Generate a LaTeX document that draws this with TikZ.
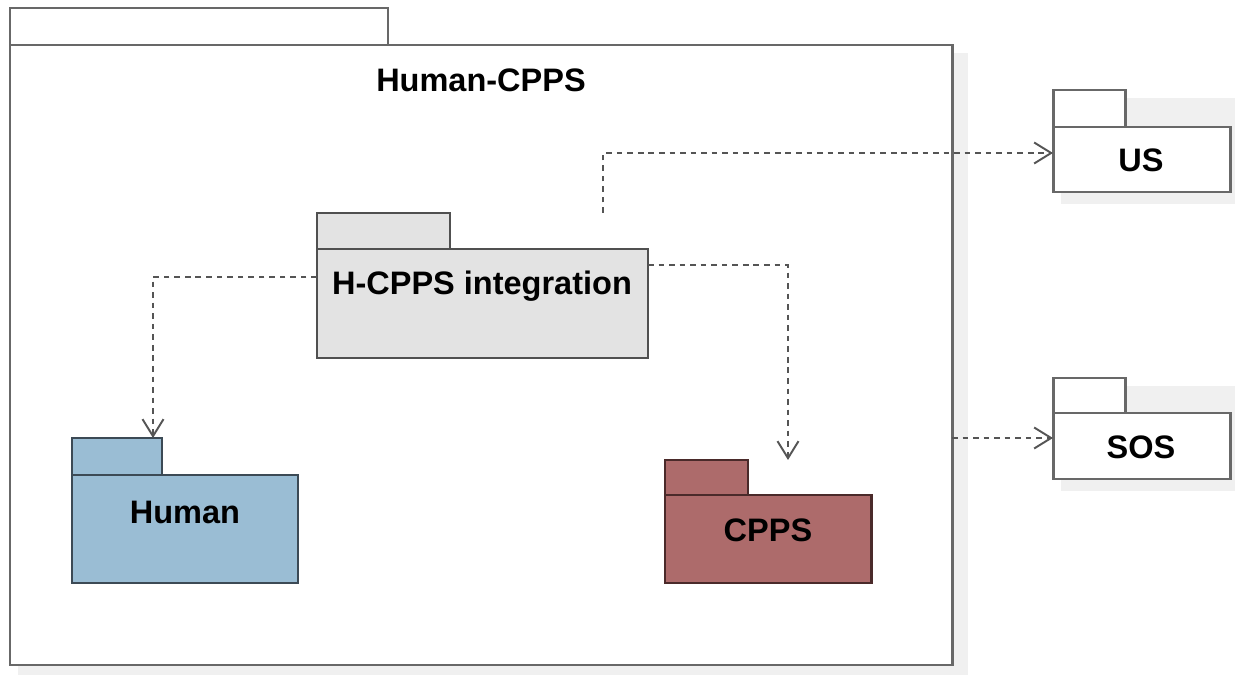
\documentclass[tikz,border=0pt]{standalone}
\usepackage{fontspec}
\setmainfont{Liberation Sans}
\usetikzlibrary{arrows.meta,fit,calc}
\definecolor{humanfill}{HTML}{9ABDD4}
\definecolor{humandraw}{HTML}{3C4A55}
\definecolor{cppsfill}{HTML}{AD6B6B}
\definecolor{cppsdraw}{HTML}{4A2A2A}
\definecolor{intfill}{HTML}{E3E3E3}
\definecolor{intdraw}{HTML}{505050}
\definecolor{maindraw}{HTML}{686868}
\definecolor{shadowc}{HTML}{F0F0F0}
\definecolor{linec}{HTML}{555555}
\tikzset{
  pkgpart/.style={inner sep=0pt, outer sep=0pt, line width=1.7pt},
  lbl/.style={font=\bfseries\fontsize{18.5}{22}\selectfont, text=black, inner sep=0pt},
  dep/.style={draw=linec, line width=1.6pt, dash pattern=on 3.2pt off 2.8pt,
    -{Straight Barb[length=0.34cm,width=0.42cm,line width=1.1pt]}},
}
\begin{document}
\begin{tikzpicture}[x=0.02cm,y=-0.02cm]
\useasboundingbox (0,0) rectangle (1235,675);
% shadows
\fill[shadowc] (18,53) rectangle (968,675);
\fill[shadowc] (325,221) rectangle (660,370);
\fill[shadowc] (80,446) rectangle (310,595);
\fill[shadowc] (673,468) rectangle (883,595);
\fill[shadowc] (1061,98) rectangle (1235,204);
\fill[shadowc] (1061,386) rectangle (1235,491);
% main package
\node[pkgpart, draw=maindraw, fill=white, fit={(10,8) (388,45)}] (maintab) {};
\node[pkgpart, draw=maindraw, fill=white, fit={(10,45) (952,665)}] (main) {};
\node[lbl] (maintitle) at (481,80) {Human-CPPS};
% integration
\node[pkgpart, draw=intdraw, fill=intfill, fit={(317,213) (450,249)}] (inttab) {};
\node[pkgpart, draw=intdraw, fill=intfill, fit={(317,249) (648,358)}] (int) {};
\node[lbl] (intlbl) at (482,286) {H-CPPS integration};
% human
\node[pkgpart, draw=humandraw, fill=humanfill, fit={(72,438) (162,475)}] (humtab) {};
\node[pkgpart, draw=humandraw, fill=humanfill, fit={(72,475) (298,583)}] (hum) {};
\node[lbl] (humlbl) at (185,512) {Human};
% cpps
\node[pkgpart, draw=cppsdraw, fill=cppsfill, fit={(665,460) (748,495)}] (cpstab) {};
\node[pkgpart, draw=cppsdraw, fill=cppsfill, fit={(665,495) (871,583)}] (cps) {};
\node[lbl] (cpslbl) at (768,530) {CPPS};
% US
\node[pkgpart, draw=maindraw, fill=white, fit={(1053,90) (1125,127)}] (ustab) {};
\node[pkgpart, draw=maindraw, fill=white, fit={(1053,127) (1230,192)}] (us) {};
\node[lbl] (uslbl) at (1141,160) {US};
% SOS
\node[pkgpart, draw=maindraw, fill=white, fit={(1053,378) (1125,413)}] (sostab) {};
\node[pkgpart, draw=maindraw, fill=white, fit={(1053,413) (1230,479)}] (sos) {};
\node[lbl] (soslbl) at (1141,447) {SOS};
% connector endpoints
\coordinate (intUS) at (603,213);
\coordinate (usIn) at (1053,153);
\coordinate (intHum) at (317,277);
\coordinate (intCps) at (648,265);
\coordinate (mainSos) at (952,438);
\coordinate (sosIn) at (1053,438);
% connectors
\draw[dep] (intUS) |- (usIn);
\draw[dep] (intHum) -| (humtab.north -| 153,0);
\draw[dep] (intCps) -| (cpstab.north -| 788,0);
\draw[dep] (mainSos) -- (sosIn);
\end{tikzpicture}
\end{document}
